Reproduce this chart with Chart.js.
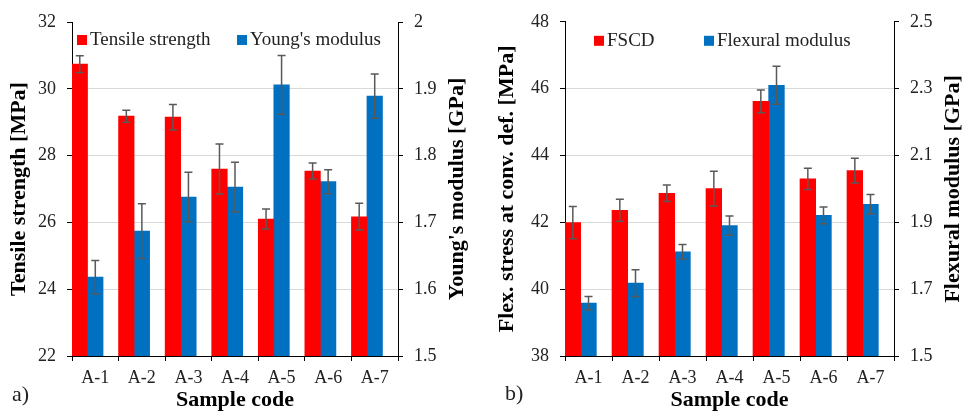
<!DOCTYPE html>
<html>
<head>
<meta charset="utf-8">
<title>Tensile and flexural properties</title>
<script src="https://cdn.jsdelivr.net/npm/chart.js@4.4.1/dist/chart.umd.min.js"></script>
<style>
  body { margin: 0; background: #fff; }
  #wrap { display: flex; width: 965px; height: 411px; }
  canvas { display: block; }
</style>
</head>
<body>
<div id="wrap">
  <canvas id="chartA" width="482" height="411"></canvas>
  <canvas id="chartB" width="483" height="411"></canvas>
</div>
<script>
// sample codes (x categories)
const sampleCodes = ["A-1", "A-2", "A-3", "A-4", "A-5", "A-6", "A-7"];

// a) tensile test
const tensileStrength = [30.74, 29.18, 29.15, 27.60, 26.10, 27.54, 26.17];   // MPa
const tensileErr      = [0.25, 0.18, 0.38, 0.75, 0.30, 0.24, 0.40];
const youngsModulus   = [1.618, 1.687, 1.738, 1.753, 1.906, 1.761, 1.889]; // GPa
const youngsErr       = [0.025, 0.041, 0.037, 0.037, 0.044, 0.018, 0.033];

// b) flexural test
const fscd        = [41.99, 42.36, 42.87, 43.01, 45.62, 43.30, 43.55];      // MPa
const fscdErr     = [0.48, 0.33, 0.25, 0.52, 0.34, 0.32, 0.37];
const flexModulus = [1.658, 1.718, 1.812, 1.890, 2.310, 1.921, 1.954];      // GPa
const flexErr     = [0.020, 0.040, 0.022, 0.029, 0.057, 0.025, 0.029];

const RED = "#ff0000";
const BLUE = "#0070c0";
const SERIF = "'Liberation Serif', 'Times New Roman', serif";

Chart.defaults.font.family = SERIF;
Chart.defaults.color = "#222";

// error bars drawn from dataset.errors
const errorBars = {
    id: "errorBars",
    afterDatasetsDraw(chart) {
        const ctx = chart.ctx;
        ctx.save();
        ctx.strokeStyle = "#595959";
        ctx.lineWidth = 1.5;
        chart.data.datasets.forEach((ds, i) => {
            if (!ds.errors) return;
            const meta = chart.getDatasetMeta(i);
            const scale = chart.scales[meta.yAxisID];
            meta.data.forEach((bar, j) => {
                const v = ds.data[j], e = ds.errors[j];
                const hi = scale.getPixelForValue(v + e);
                const lo = scale.getPixelForValue(v - e);
                ctx.beginPath();
                ctx.moveTo(bar.x, hi); ctx.lineTo(bar.x, lo);
                ctx.moveTo(bar.x - 4, hi); ctx.lineTo(bar.x + 4, hi);
                ctx.moveTo(bar.x - 4, lo); ctx.lineTo(bar.x + 4, lo);
                ctx.stroke();
            });
        });
        ctx.restore();
    }
};

// Excel-like legend inside the plot area
const boxLegend = {
    id: "boxLegend",
    afterDraw(chart, args, opts) {
        const { ctx, chartArea } = chart;
        ctx.save();
        ctx.font = "19px " + SERIF;
        ctx.textBaseline = "middle";
        chart.data.datasets.forEach((ds, i) => {
            if (!ds.label) return;
            const x = chartArea.left + opts.offsets[i];
            const y = chartArea.top + opts.top;
            ctx.fillStyle = ds.backgroundColor;
            ctx.fillRect(x, y, 10, 10);
            ctx.fillStyle = "#222";
            ctx.fillText(ds.label, x + 13, y + 5.5);
        });
        ctx.restore();
    }
};

// "a)" / "b)" and the right-axis title (read bottom to top, like the left one)
const extraText = {
    id: "extraText",
    afterDraw(chart, args, opts) {
        const { ctx, chartArea, width } = chart;
        ctx.save();
        ctx.fillStyle = "#222";
        ctx.font = "22px " + SERIF;
        ctx.textBaseline = "alphabetic";
        ctx.fillText(opts.panel, opts.panelX, opts.panelY);

        ctx.fillStyle = "#000";
        ctx.font = "bold 22px " + SERIF;
        ctx.textAlign = "center";
        ctx.textBaseline = "middle";
        ctx.translate(width - opts.rightTitleOffset, (chartArea.top + chartArea.bottom) / 2);
        ctx.rotate(-Math.PI / 2);
        ctx.fillText(opts.rightTitle, 0, 0);
        ctx.restore();
    }
};

function yAxis(position, min, max, step, title, titlePad, width, onArea) {
    return {
        type: "linear",
        position: position,
        min: min,
        max: max,
        ticks: {
            stepSize: step, padding: 11, color: "#222", font: { size: 18 },
            callback: v => String(Number(v.toFixed(2)))
        },
        grid: {
            drawOnChartArea: onArea,
            color: ctx => (ctx.tick && (ctx.tick.value === min || ctx.tick.value === max)) ? "rgba(0,0,0,0)" : "#d9d9d9",
            tickColor: "#000",
            tickLength: 5
        },
        border: { color: "#000", width: 1 },
        title: {
            display: !!title, text: title, color: "#000",
            font: { size: 22, weight: "bold", lineHeight: 1 },
            padding: { top: titlePad, bottom: 0 }
        },
        afterFit: s => { s.width = width; }
    };
}

function buildChart(id, o) {
    return new Chart(document.getElementById(id), {
        type: "bar",
        data: {
            labels: sampleCodes,
            datasets: [
                { label: o.leftLabel, data: o.leftData, errors: o.leftErr, yAxisID: "y", backgroundColor: RED },
                { label: o.rightLabel, data: o.rightData, errors: o.rightErr, yAxisID: "y1", backgroundColor: BLUE },
                { label: "", data: sampleCodes.map(() => null), yAxisID: "y" } // empty third slot
            ]
        },
        options: {
            responsive: false,
            animation: false,
            layout: { padding: { top: o.top, left: 0, right: 0, bottom: 0 } },
            datasets: { bar: { categoryPercentage: 1, barPercentage: 1 } },
            scales: {
                x: {
                    ticks: { padding: 6, color: "#222", font: { size: 18 } },
                    grid: { offset: true, drawOnChartArea: false, tickColor: "#000", tickLength: 5 },
                    border: { color: "#000", width: 1 },
                    title: {
                        display: true, text: "Sample code", color: "#000",
                        font: { size: 22, weight: "bold", lineHeight: 1 },
                        padding: { top: 0, bottom: 0 }
                    },
                    afterFit: s => { s.height = 55; }
                },
                y: yAxis("left", o.yMin, o.yMax, o.yStep, o.yTitle, o.yPad, o.yWidth, true),
                y1: yAxis("right", o.y1Min, o.y1Max, o.y1Step, "", 0, o.y1Width, false)
            },
            plugins: {
                legend: { display: false },
                tooltip: { enabled: false },
                boxLegend: { offsets: o.legendOffsets, top: o.legendTop },
                extraText: {
                    panel: o.panel, panelX: o.panelX, panelY: o.panelY,
                    rightTitle: o.y1Title, rightTitleOffset: o.y1TitleOffset
                }
            }
        },
        plugins: [errorBars, boxLegend, extraText]
    });
}

buildChart("chartA", {
    leftLabel: "Tensile strength", leftData: tensileStrength, leftErr: tensileErr,
    rightLabel: "Young's modulus", rightData: youngsModulus, rightErr: youngsErr,
    top: 22,
    yMin: 22, yMax: 32, yStep: 2, yTitle: "Tensile strength [MPa]", yPad: 8, yWidth: 72,
    y1Min: 1.5, y1Max: 2, y1Step: 0.1, y1Title: "Young's modulus [GPa]", y1TitleOffset: 25, y1Width: 84,
    legendOffsets: [5, 165], legendTop: 13,
    panel: "a)", panelX: 12, panelY: 401
});

buildChart("chartB", {
    leftLabel: "FSCD", leftData: fscd, leftErr: fscdErr,
    rightLabel: "Flexural modulus", rightData: flexModulus, rightErr: flexErr,
    top: 21,
    yMin: 38, yMax: 48, yStep: 2, yTitle: "Flex. stress at conv. def. [MPa]", yPad: 14, yWidth: 83,
    y1Min: 1.5, y1Max: 2.5, y1Step: 0.2, y1Title: "Flexural modulus [GPa]", y1TitleOffset: 12, y1Width: 71,
    legendOffsets: [29, 139], legendTop: 14,
    panel: "b)", panelX: 23, panelY: 400
});
</script>
</body>
</html>
